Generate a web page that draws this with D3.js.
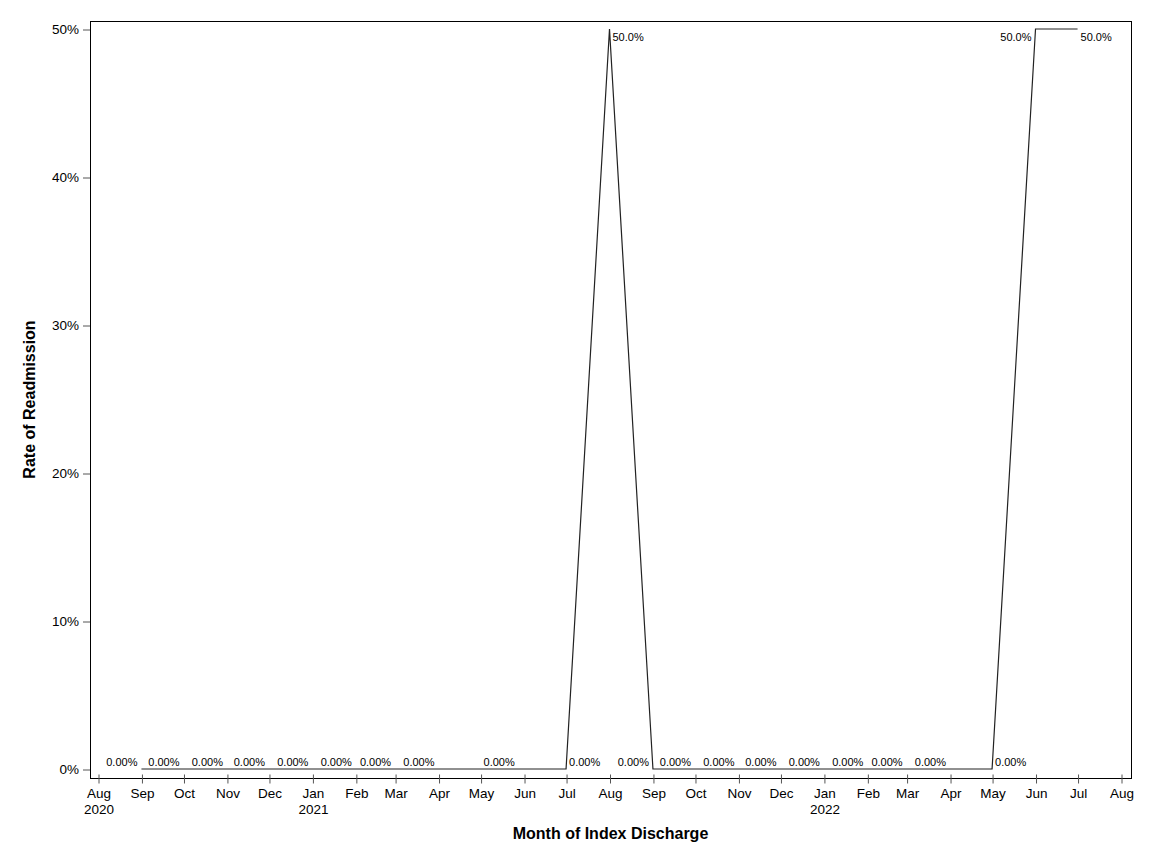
<!DOCTYPE html>
<html>
  <head>
    <script src="https://cdnjs.cloudflare.com/ajax/libs/d3/7.8.5/d3.min.js"></script>
    <style>
      body {
        margin: 0;
        background: #fff;
        font-family: "Liberation Sans", Arial, sans-serif;
      }
      .frame {
        fill: none;
        stroke: #000;
        stroke-width: 1px;
      }
      .tick line {
        stroke: #555;
      }
      .series {
        fill: none;
        stroke: #222;
        stroke-width: 1.2px;
      }
    </style>
  </head>
  <body>
    <svg id="chart" width="1152" height="864"></svg>
    <script>
      // Months of index discharge (first of month)
      const months = [
        "2020-09", "2020-10", "2020-11", "2020-12", "2021-01", "2021-02",
        "2021-03", "2021-04", "2021-05", "2021-06", "2021-07", "2021-08",
        "2021-09", "2021-10", "2021-11", "2021-12", "2022-01", "2022-02",
        "2022-03", "2022-04", "2022-05", "2022-06", "2022-07",
      ];
      const rates = [
        0, 0, 0, 0, 0, 0, 0, 0, 0, 0, 0, 0.5,
        0, 0, 0, 0, 0, 0, 0, 0, 0, 0.5, 0.5,
      ];
      const rateLabels = [
        "0.00%", "0.00%", "0.00%", "0.00%", "0.00%", "0.00%", "0.00%", "0.00%",
        "0.00%", "", "0.00%", "50.0%", "0.00%", "0.00%", "0.00%", "0.00%",
        "0.00%", "0.00%", "0.00%", "0.00%", "0.00%", "50.0%", "50.0%",
      ];
      // which side of the point each label sits on
      const labelSide = [
        "L", "L", "L", "L", "L", "L", "L", "L", "R", "L", "R", "R",
        "L", "L", "L", "L", "L", "L", "L", "L", "R", "L", "R",
      ];
      const yTicks = [0, 0.1, 0.2, 0.3, 0.4, 0.5];

      const svg = d3.select("#chart");
      const parse = d3.timeParse("%Y-%m");
      const data = months.map((m, i) => ({
        date: parse(m),
        rate: rates[i],
        label: rateLabels[i],
        side: labelSide[i],
      }));

      const frame = { left: 90, right: 1131, top: 21, bottom: 778 };

      const x = d3
        .scaleTime()
        .domain([new Date(2020, 7, 1), new Date(2022, 7, 1)])
        .range([98, 1121]);
      const y = d3.scaleLinear().domain([0, 0.5]).range([769, 29]);

      svg
        .append("rect")
        .attr("class", "frame")
        .attr("x", frame.left + 0.5)
        .attr("y", frame.top + 0.5)
        .attr("width", frame.right - frame.left)
        .attr("height", frame.bottom - frame.top);

      // X axis
      const xAxis = d3
        .axisBottom(x)
        .ticks(d3.timeMonth.every(1))
        .tickSize(0)
        .tickFormat("");
      const xg = svg
        .append("g")
        .attr("transform", `translate(0.5,${frame.bottom + 0.5})`)
        .call(xAxis);
      xg.select(".domain").remove();
      xg.selectAll(".tick line").attr("y1", -4).attr("y2", 5);
      xg.selectAll(".tick").each(function (d) {
        const t = d3.select(this);
        const txt = t
          .append("text")
          .attr("fill", "#000")
          .attr("font-size", 13.5)
          .attr("text-anchor", "middle")
          .attr("y", 19);
        txt.append("tspan").attr("x", 0).text(d3.timeFormat("%b")(d));
        if (d.getMonth() === 0 || +d === +x.domain()[0]) {
          txt
            .append("tspan")
            .attr("x", 0)
            .attr("dy", 16)
            .text(d3.timeFormat("%Y")(d));
        }
      });

      // Y axis
      const yAxis = d3
        .axisLeft(y)
        .tickValues(yTicks)
        .tickSize(7)
        .tickPadding(4)
        .tickFormat(d3.format(".0%"));
      const yg = svg
        .append("g")
        .attr("transform", `translate(${frame.left},0.5)`)
        .call(yAxis);
      yg.select(".domain").remove();
      yg.selectAll(".tick text")
        .attr("fill", "#000")
        .attr("font-size", 13.5)
        .attr("font-family", "Liberation Sans, Arial, sans-serif");

      // Series line
      const line = d3
        .line()
        .x((d) => x(d.date))
        .y((d) => y(d.rate));
      svg.append("path").datum(data).attr("class", "series").attr("d", line);

      // Point labels
      svg
        .append("g")
        .selectAll("text")
        .data(data.filter((d) => d.label))
        .enter()
        .append("text")
        .attr("font-size", 11)
        .attr("fill", "#000")
        .attr("text-anchor", (d) => (d.side === "L" ? "end" : "start"))
        .attr("x", (d) => x(d.date) + (d.side === "L" ? -4 : 3))
        .attr("y", (d) => y(d.rate) + (d.rate > 0.25 ? 12 : -3.5))
        .text((d) => d.label);

      // Axis titles
      svg
        .append("text")
        .attr("x", (frame.left + frame.right) / 2)
        .attr("y", 839)
        .attr("text-anchor", "middle")
        .attr("font-size", 16)
        .attr("font-weight", "bold")
        .text("Month of Index Discharge");
      svg
        .append("text")
        .attr("transform", `translate(35,${(frame.top + frame.bottom) / 2}) rotate(-90)`)
        .attr("text-anchor", "middle")
        .attr("font-size", 16)
        .attr("font-weight", "bold")
        .text("Rate of Readmission");
    </script>
  </body>
</html>
